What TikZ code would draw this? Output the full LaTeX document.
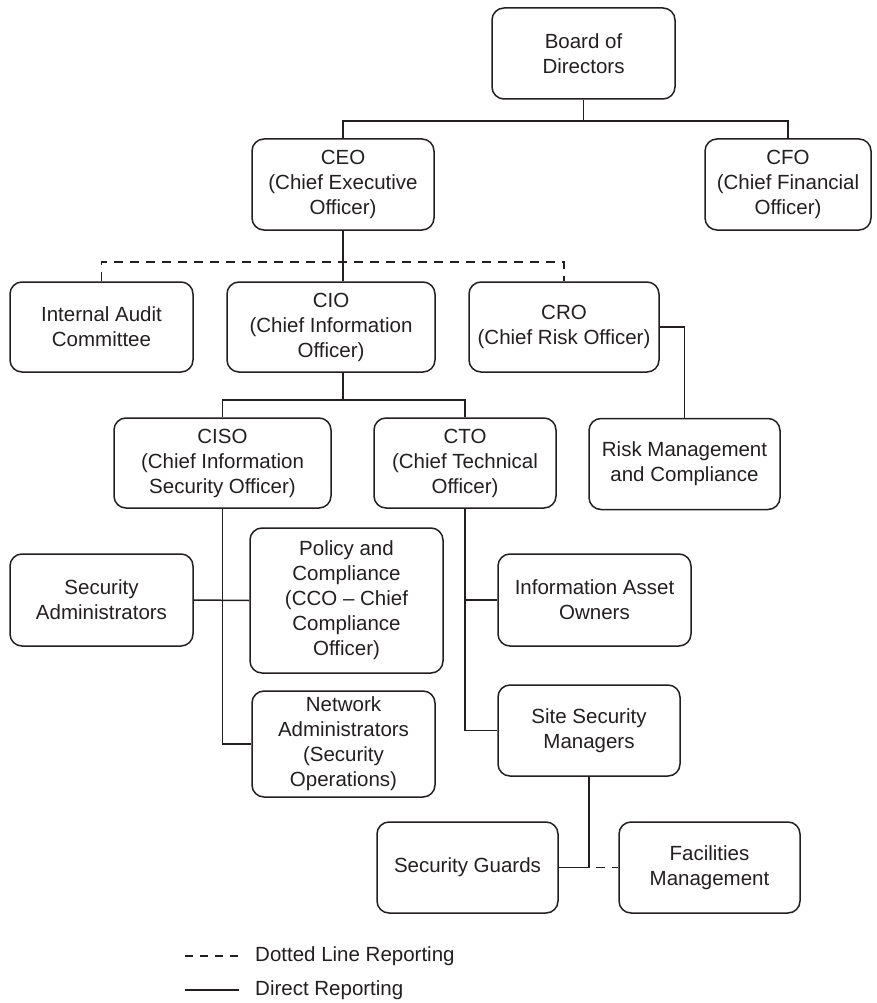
\documentclass[tikz,border=0pt]{standalone}
\usepackage{fontspec}
\setmainfont{Liberation Sans}
\definecolor{ink}{HTML}{231F20}
\begin{document}
\begin{tikzpicture}[x=1pt,y=-1pt,
  box/.style={draw=ink, rounded corners=12pt, line width=1.5pt, align=center, inner sep=0pt,
    font=\fontsize{20.5}{25}\selectfont, text=ink},
  conn/.style={draw=ink, line width=1.5pt},
  dashconn/.style={draw=ink, line width=1.5pt, dash pattern=on 9pt off 7pt},
  legtext/.style={anchor=west, inner sep=0pt, text=ink, font=\fontsize{20.5}{25}\selectfont}]
\path[use as bounding box] (0,0) rectangle (877,1003);

% boxes
\node[box, minimum width=183pt, minimum height=91pt] (board) at (583.5,53.5) {Board of\\Directors};
\node[box, minimum width=182pt, minimum height=91pt] (ceo) at (343,184.5) {CEO\\(Chief Executive\\Officer)};
\node[box, minimum width=166pt, minimum height=91pt] (cfo) at (788,184.5) {CFO\\(Chief Financial\\Officer)};
\node[box, minimum width=183pt, minimum height=90pt] (iac) at (101.5,327) {Internal Audit\\Committee};
\node[box, minimum width=208pt, minimum height=90pt] (cio) at (331,327) {CIO\\(Chief Information\\Officer)};
\node[box, minimum width=190pt, minimum height=90pt] (cro) at (564,327) {CRO\\(Chief Risk Officer)};
\node[box, minimum width=217pt, minimum height=90pt] (ciso) at (222.5,463) {CISO\\(Chief Information\\Security Officer)};
\node[box, minimum width=182pt, minimum height=90pt] (cto) at (465,463) {CTO\\(Chief Technical\\Officer)};
\node[box, minimum width=191pt, minimum height=91pt] (rmc) at (684.5,464) {Risk Management\\and Compliance};
\node[box, minimum width=183pt, minimum height=92pt] (secadm) at (101.5,600) {Security\\Administrators};
\node[box, minimum width=193pt, minimum height=145pt] (policy) at (346.5,600.5) {Policy and\\Compliance\\(CCO -- Chief\\Compliance\\Officer)};
\node[box, minimum width=183pt, minimum height=106pt] (netadm) at (343.5,744) {Network\\Administrators\\(Security\\Operations)};
\node[box, minimum width=193pt, minimum height=92pt] (infoasset) at (594.5,600) {Information Asset\\Owners};
\node[box, minimum width=182pt, minimum height=91pt] (sitesec) at (589,730.5) {Site Security\\Managers};
\node[box, minimum width=181pt, minimum height=91pt] (guards) at (467.5,867.5) {Security Guards};
\node[box, minimum width=181pt, minimum height=91pt] (facil) at (709.5,867.5) {Facilities\\Management};

% helper coordinates
\coordinate (bar1) at (583.5,121);
\coordinate (dashy) at (0,262);
\coordinate (bar2) at (0,400);

% connectors
\draw[conn] (board.south) -- (bar1);
\draw[conn] (ceo.north) -- (ceo.north |- bar1) -- (cfo.north |- bar1) -- (cfo.north);
\draw[dashconn] (iac.north) -- (iac.north |- dashy) -- (cro.north |- dashy) -- (cro.north);
\draw[conn] (ceo.south) -- (ceo.south |- cio.north);
\draw[conn] (ceo.south |- cio.south) -- (ceo.south |- bar2);
\draw[conn] (ciso.north) -- (ciso.north |- bar2) -- (cto.north |- bar2) -- (cto.north);
\draw[conn] (cro.east) -| (rmc.north);
\draw[conn] (ciso.south) |- (netadm.west);
\draw[conn] (secadm.east) -- (policy.west);
\draw[conn] (cto.south) |- (sitesec.west);
\draw[conn] (cto.south |- infoasset.west) -- (infoasset.west);
\draw[conn] (sitesec.south) -- (sitesec.south |- guards.east) -- (guards.east);
\draw[dashconn, dash phase=9pt] (sitesec.south |- guards.east) -- (facil.west);

% legend
\coordinate (l1a) at (185,956);
\coordinate (l1b) at (239,956);
\coordinate (l2a) at (185,990);
\coordinate (l2b) at (239,990);
\draw[draw=ink, line width=1.5pt, dash pattern=on 8pt off 7pt] (l1a) -- (l1b);
\draw[conn] (l2a) -- (l2b);
\node[legtext] (leg1) at (255,956) {Dotted Line Reporting};
\node[legtext] (leg2) at (255,990) {Direct Reporting};
\end{tikzpicture}
\end{document}
